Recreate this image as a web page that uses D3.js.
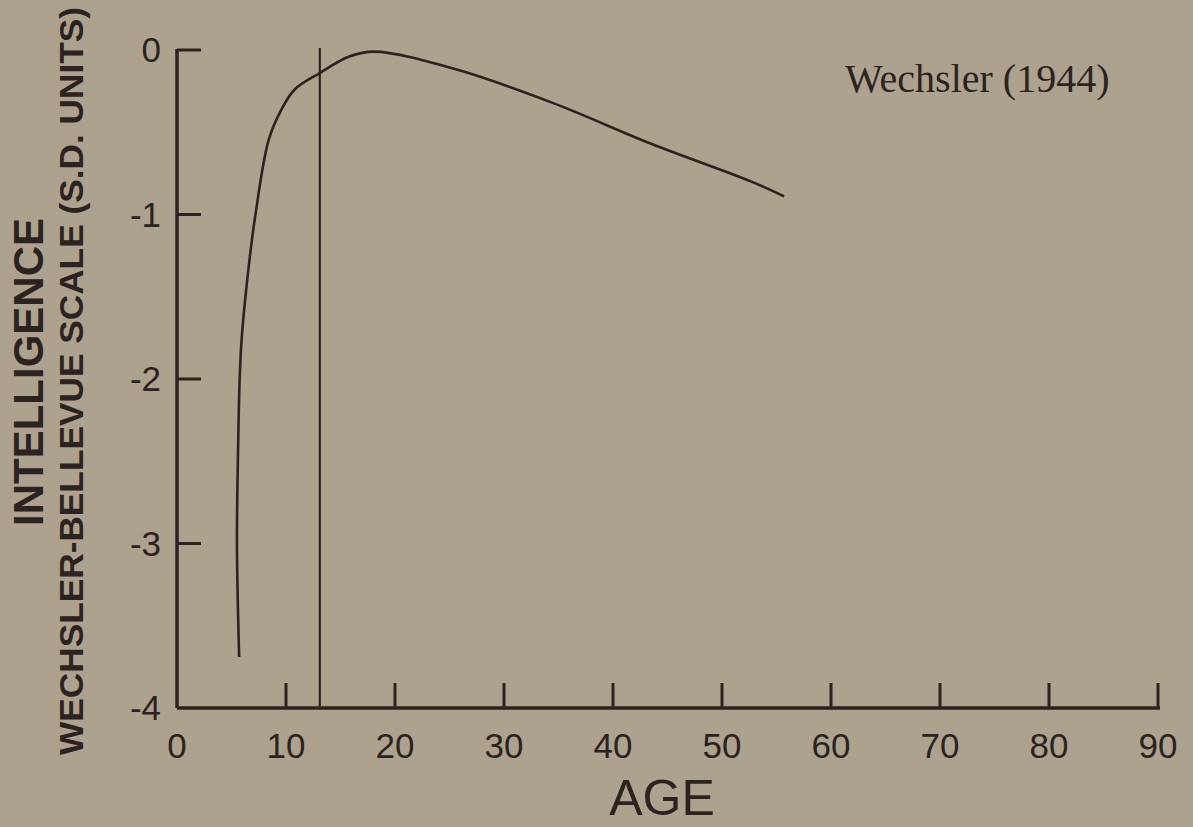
<!DOCTYPE html>
<html lang="en">
<head>
<meta charset="UTF-8">
<style>
    body {margin: 0; background: #ada28e;}
    svg {display: block;}
    .tick-label {font-family: "Liberation Sans", Arial, sans-serif; font-size: 35px; fill: #2b231f;}
</style>
</head>
<body>
<div id="chart"></div>
<script src="https://d3js.org/d3.v7.min.js"></script>
<script>
// values (age in years, score in S.D. units)
var ages   = [5.7, 5.5, 5.6, 5.75, 5.95, 6.75, 7.2, 8.4, 9.6, 10.8, 13.1, 15.8, 18.1, 25.2, 34.4, 43.5, 52.7, 55.7];
var scores = [-3.69, -3.0, -2.44, -2.0, -1.74, -1.22, -1.0, -0.55, -0.36, -0.24, -0.14, -0.04, -0.01, -0.11, -0.32, -0.57, -0.80, -0.89];
var xTicks = [0, 10, 20, 30, 40, 50, 60, 70, 80, 90];
var yTicks = [0, -1, -2, -3, -4];
var markerAge = 13.1;
var note = "Wechsler (1944)";

var ink = "#2b231f";
var width = 1193, height = 827;

var svg = d3.select("#chart").append("svg")
    .attr("width", width)
    .attr("height", height);

// scales
var x = d3.scaleLinear().domain([0, 90]).range([177, 1158]);
var y = d3.scaleLinear().domain([-4, 0]).range([708, 50]);

// axis lines
svg.append("line")
    .attr("x1", x(0)).attr("x2", x(90) + 2)
    .attr("y1", y(-4)).attr("y2", y(-4))
    .attr("stroke", ink).attr("stroke-width", 3.5);
svg.append("line")
    .attr("x1", x(0)).attr("x2", x(0))
    .attr("y1", y(0) - 1).attr("y2", y(-4))
    .attr("stroke", ink).attr("stroke-width", 3.5);

// x ticks, pointing up
svg.selectAll(".xtick").data(xTicks.slice(1)).enter().append("line")
    .attr("x1", function(d) { return x(d); })
    .attr("x2", function(d) { return x(d); })
    .attr("y1", y(-4)).attr("y2", y(-4) - 25)
    .attr("stroke", ink).attr("stroke-width", 3);

svg.selectAll(".xlab").data(xTicks).enter().append("text")
    .attr("class", "tick-label")
    .attr("x", function(d) { return x(d); })
    .attr("y", 758)
    .attr("text-anchor", "middle")
    .text(function(d) { return d; });

// y ticks, pointing right
svg.selectAll(".ytick").data(yTicks.slice(0, 4)).enter().append("line")
    .attr("x1", x(0)).attr("x2", x(0) + 24)
    .attr("y1", function(d) { return y(d); })
    .attr("y2", function(d) { return y(d); })
    .attr("stroke", ink).attr("stroke-width", 3);

svg.selectAll(".ylab").data(yTicks).enter().append("text")
    .attr("class", "tick-label")
    .attr("x", 161)
    .attr("y", function(d) { return y(d) + 12; })
    .attr("text-anchor", "end")
    .text(function(d) { return d; });

// vertical marker line
svg.append("line")
    .attr("x1", x(markerAge)).attr("x2", x(markerAge))
    .attr("y1", y(0) - 2).attr("y2", y(-4))
    .attr("stroke", ink).attr("stroke-width", 2.2);

// the curve
var pts = ages.map(function(a, i) { return [a, scores[i]]; });
var line = d3.line()
    .x(function(d) { return x(d[0]); })
    .y(function(d) { return y(d[1]); })
    .curve(d3.curveCatmullRom.alpha(0.5));

svg.append("path")
    .datum(pts)
    .attr("d", line)
    .attr("fill", "none")
    .attr("stroke", ink)
    .attr("stroke-width", 2.6);

// annotation
svg.append("text")
    .attr("x", 845).attr("y", 92)
    .attr("font-family", "Liberation Serif, Times New Roman, serif")
    .attr("font-size", 40)
    .attr("fill", ink)
    .text(note);

// axis titles
svg.append("text")
    .attr("x", 662).attr("y", 815)
    .attr("text-anchor", "middle")
    .attr("font-family", "Liberation Sans, Arial, sans-serif")
    .attr("font-size", 50)
    .attr("fill", ink)
    .text("AGE");

svg.append("text")
    .attr("transform", "translate(43,372) rotate(-90)")
    .attr("text-anchor", "middle")
    .attr("font-family", "Liberation Sans, Arial, sans-serif")
    .attr("font-weight", "bold")
    .attr("font-size", 42)
    .attr("fill", ink)
    .text("INTELLIGENCE");

svg.append("text")
    .attr("transform", "translate(83,381) rotate(-90)")
    .attr("text-anchor", "middle")
    .attr("font-family", "Liberation Sans, Arial, sans-serif")
    .attr("font-weight", "bold")
    .attr("font-size", 33)
    .attr("textLength", 748)
    .attr("lengthAdjust", "spacingAndGlyphs")
    .attr("fill", ink)
    .text("WECHSLER-BELLEVUE SCALE (S.D. UNITS)");
</script>
</body>
</html>
